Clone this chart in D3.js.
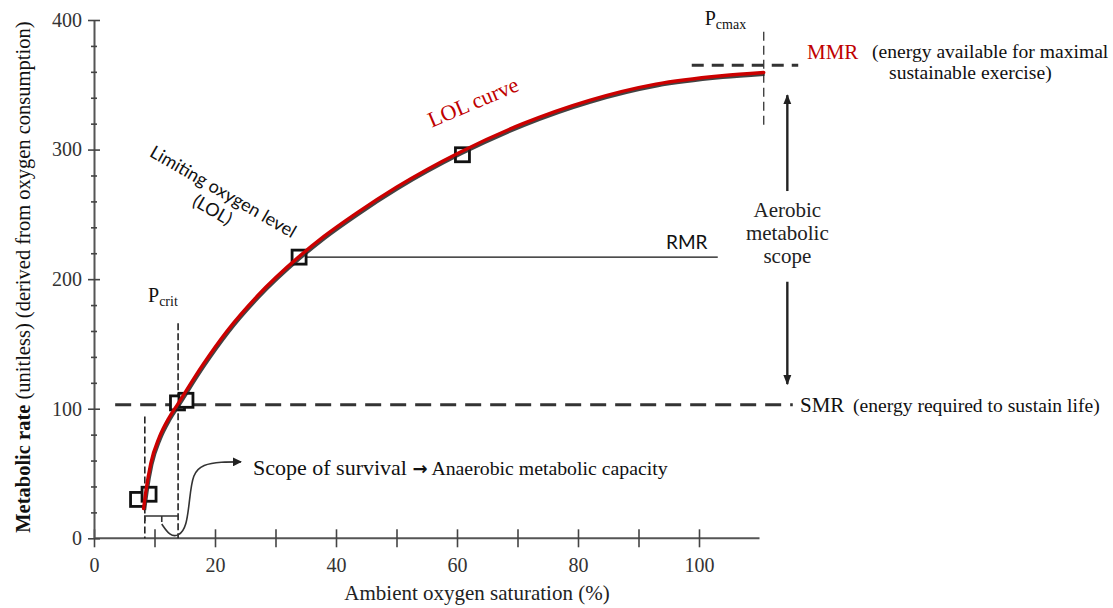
<!DOCTYPE html>
<html>
<head>
<meta charset="utf-8">
<script src="https://cdn.jsdelivr.net/npm/d3@7"></script>
<style>
  html, body { margin: 0; padding: 0; background: #fff; }
  svg { display: block; }
  .serif { font-family: "Liberation Serif", "Times New Roman", serif; }
  .sans { font-family: Lato, "Open Sans", sans-serif; }
</style>
</head>
<body>
<svg id="chart" width="1113" height="608"></svg>
<script>
// LOL curve: ambient O2 saturation (%) vs metabolic rate (unitless)
const curveX = [8.2, 8.6, 9.4, 10.8, 12.4, 13.9, 18.0, 22.0, 27.0, 33.8, 38.0, 43.4, 50.0, 60.5, 70.9, 81.9, 92.9, 103.8, 110.7];
const curveY = [23, 37, 58, 78, 93, 104, 134, 160, 187, 217, 233, 251, 271, 298, 320, 338, 350.5, 357, 359.5];

// measured points (open squares)
const pointX = [7.2, 9.1, 13.8, 15.2, 33.9, 60.9];
const pointY = [30, 34, 104.5, 106.5, 217, 296];

// reference levels
const levelNames = ["SMR", "RMR", "MMR"];
const levelValues = [103, 217, 365];
const pcritX = 13.9;
const plowX = 8.4;
const pcmaxX = 110.7;

// axis ticks
const xTickValues = [0, 10, 20, 30, 40, 50, 60, 70, 80, 90, 100];
const xTickLabels = [0, 20, 40, 60, 80, 100];
const yTickValues = [0, 20, 40, 60, 80, 100, 120, 140, 160, 180, 200, 220, 240, 260, 280, 300, 320, 340, 360, 380, 400];
const yTickLabels = [0, 100, 200, 300, 400];

const svg = d3.select("#chart");
const x = d3.scaleLinear().domain([0, 110]).range([94, 759.5]);
const y = d3.scaleLinear().domain([0, 400]).range([538.3, 20]);

// arrowhead markers
const defs = svg.append("defs");
defs.append("marker")
  .attr("id", "arrow").attr("viewBox", "0 0 10 10")
  .attr("refX", 9).attr("refY", 5)
  .attr("markerWidth", 9).attr("markerHeight", 9)
  .attr("markerUnits", "userSpaceOnUse")
  .attr("orient", "auto")
  .append("path").attr("d", "M0,0 L10,5 L0,10 Z").attr("fill", "#222");
defs.append("marker")
  .attr("id", "arrowBig").attr("viewBox", "0 0 10 10")
  .attr("refX", 9).attr("refY", 5)
  .attr("markerWidth", 10).attr("markerHeight", 10)
  .attr("markerUnits", "userSpaceOnUse")
  .attr("orient", "auto")
  .append("path").attr("d", "M0,1 L10,5 L0,9 Z").attr("fill", "#222");

// ---- axes ----
const xAxis = d3.axisBottom(x).tickValues(xTickValues)
  .tickFormat(d => xTickLabels.includes(d) ? d : "").tickSizeOuter(0);
const gx = svg.append("g").attr("transform", `translate(0,${y(0)})`).call(xAxis);
gx.select(".domain").attr("d", `M${x(0)},0H${x(110)}`).attr("stroke", "#555").attr("stroke-width", 2);
gx.selectAll(".tick line").attr("y1", -9).attr("y2", 9).attr("stroke", "#444").attr("stroke-width", 1.6);
gx.selectAll(".tick text").attr("y", 20).attr("class", "serif")
  .attr("font-size", 20).attr("fill", "#333");

const yAxis = d3.axisLeft(y).tickValues(yTickValues)
  .tickFormat(d => yTickLabels.includes(d) ? d : "").tickSizeOuter(0);
const gy = svg.append("g").attr("transform", `translate(${x(0)},0)`).call(yAxis);
gy.select(".domain").attr("stroke", "#555").attr("stroke-width", 2);
gy.selectAll(".tick line")
  .attr("x1", d => yTickLabels.includes(d) ? -6 : -3)
  .attr("x2", d => yTickLabels.includes(d) ? 6 : 3)
  .attr("stroke", "#444").attr("stroke-width", 1.6);
gy.selectAll(".tick text").attr("x", -12).attr("class", "serif")
  .attr("font-size", 20).attr("fill", "#333");
svg.selectAll(".tick text").attr("font-family", null);

// axis titles
const yTitle = svg.append("text").attr("class", "serif")
  .attr("transform", `translate(30,${(y(0) + y(400)) / 2 - 2}) rotate(-90)`)
  .attr("text-anchor", "middle").attr("font-size", 20.5).attr("fill", "#111");
yTitle.append("tspan").attr("font-weight", "bold").text("Metabolic rate");
yTitle.append("tspan").text(" (unitless) (derived from oxygen consumption)");

svg.append("text").attr("class", "serif")
  .attr("x", 477).attr("y", 600).attr("text-anchor", "middle")
  .attr("font-size", 21).attr("fill", "#222")
  .text("Ambient oxygen saturation (%)");

// ---- reference lines ----
// SMR dashed
svg.append("line")
  .attr("x1", x(3.5)).attr("x2", x(115.5))
  .attr("y1", y(levelValues[0])).attr("y2", y(levelValues[0]))
  .attr("stroke", "#333").attr("stroke-width", 3).attr("stroke-dasharray", "16,9");
// MMR dashed
svg.append("line")
  .attr("x1", x(98.8)).attr("x2", x(116.4))
  .attr("y1", y(levelValues[2])).attr("y2", y(levelValues[2]))
  .attr("stroke", "#333").attr("stroke-width", 3).attr("stroke-dasharray", "12,8");
// RMR solid
svg.append("line")
  .attr("x1", x(pointX[4])).attr("x2", x(103.1))
  .attr("y1", y(levelValues[1])).attr("y2", y(levelValues[1]))
  .attr("stroke", "#111").attr("stroke-width", 1.3);
// Pcmax thin dashed vertical
svg.append("line")
  .attr("x1", x(pcmaxX)).attr("x2", x(pcmaxX))
  .attr("y1", y(391)).attr("y2", y(319))
  .attr("stroke", "#333").attr("stroke-width", 1.3).attr("stroke-dasharray", "9,5");
// Pcrit and lower vertical dashed lines
svg.append("line")
  .attr("x1", x(pcritX)).attr("x2", x(pcritX))
  .attr("y1", y(166)).attr("y2", y(0))
  .attr("stroke", "#222").attr("stroke-width", 1.6).attr("stroke-dasharray", "7,3");
svg.append("line")
  .attr("x1", x(plowX)).attr("x2", x(plowX))
  .attr("y1", y(94)).attr("y2", y(0))
  .attr("stroke", "#222").attr("stroke-width", 1.6).attr("stroke-dasharray", "7,3");

// bracket between the two vertical lines
const by = y(17.2);
svg.append("path")
  .attr("d", `M${x(plowX)},${by + 5}V${by}H${x(pcritX)}M${x(11.2)},${by}v6`)
  .attr("fill", "none").attr("stroke", "#333").attr("stroke-width", 1.6);

// curved arrow to "Scope of survival"
const arrowPts = [[11.2, 11], [12.5, 2], [14.0, 1.5], [15.3, 9], [15.8, 30], [16.3, 50], [18.0, 57], [21.0, 59], [24.3, 59]];
svg.append("path")
  .attr("d", d3.line().x(d => x(d[0])).y(d => y(d[1])).curve(d3.curveBasis)(arrowPts))
  .attr("fill", "none").attr("stroke", "#333").attr("stroke-width", 1.6)
  .attr("marker-end", "url(#arrow)");

// ---- measured points ----
svg.append("g").selectAll("rect")
  .data(pointX.map((d, i) => [d, pointY[i]]))
  .join("rect")
  .attr("x", d => x(d[0]) - 7).attr("y", d => y(d[1]) - 7)
  .attr("width", 14).attr("height", 14)
  .attr("fill", "#fff").attr("stroke", "#111").attr("stroke-width", 2.8);

// ---- LOL curve (dark shadow + red line) ----
const curveData = curveX.map((d, i) => [d, curveY[i]]);
const lol = d3.line().x(d => x(d[0])).y(d => y(d[1])).curve(d3.curveMonotoneX);
svg.append("path").attr("d", lol(curveData))
  .attr("transform", "translate(0.8,1.6)")
  .attr("fill", "none").attr("stroke", "#222").attr("stroke-width", 3.6).attr("opacity", 0.85);
svg.append("path").attr("d", lol(curveData))
  .attr("fill", "none").attr("stroke", "#cc0000").attr("stroke-width", 3.4)
  .attr("stroke-linecap", "round");

// ---- aerobic scope arrows ----
const ax = x(114.6);
svg.append("line").attr("x1", ax).attr("x2", ax)
  .attr("y1", y(268)).attr("y2", y(342))
  .attr("stroke", "#222").attr("stroke-width", 2.4).attr("marker-end", "url(#arrowBig)");
svg.append("line").attr("x1", ax).attr("x2", ax)
  .attr("y1", y(198)).attr("y2", y(119))
  .attr("stroke", "#222").attr("stroke-width", 2.4).attr("marker-end", "url(#arrowBig)");

// ---- annotations ----
const serif = (sel) => sel.attr("class", "serif");

const scope = svg.append("text").call(serif)
  .attr("x", ax).attr("y", 217).attr("text-anchor", "middle")
  .attr("font-size", 21).attr("fill", "#222");
["Aerobic", "metabolic", "scope"].forEach((t, i) =>
  scope.append("tspan").attr("x", ax).attr("dy", i ? 23 : 0).text(t));

const pcmax = svg.append("text").call(serif)
  .attr("x", x(pcmaxX) - 59).attr("y", 25).attr("font-size", 20).attr("fill", "#111");
pcmax.append("tspan").text("P");
pcmax.append("tspan").attr("font-size", 14).attr("dy", 4).text("cmax");

const pcrit = svg.append("text").call(serif)
  .attr("x", 148).attr("y", 302).attr("font-size", 20).attr("fill", "#111");
pcrit.append("tspan").text("P");
pcrit.append("tspan").attr("font-size", 14).attr("dy", 4).text("crit");

svg.append("text").call(serif)
  .attr("x", 807).attr("y", y(levelValues[2]) - 6.5).attr("font-size", 21)
  .attr("fill", "#c00000").text(levelNames[2]);
svg.append("text").call(serif)
  .attr("x", 872).attr("y", 58).attr("font-size", 19.6).attr("fill", "#111")
  .text("(energy available for maximal");
svg.append("text").call(serif)
  .attr("x", 889).attr("y", 79).attr("font-size", 19.6).attr("fill", "#111")
  .text("sustainable exercise)");

svg.append("text").call(serif)
  .attr("x", 800).attr("y", y(levelValues[0]) + 7).attr("font-size", 21)
  .attr("fill", "#111").text(levelNames[0]);
svg.append("text").call(serif)
  .attr("x", 853).attr("y", y(levelValues[0]) + 7).attr("font-size", 19.6)
  .attr("fill", "#111").text("(energy required to sustain life)");

svg.append("text").attr("class", "sans")
  .attr("x", 666).attr("y", 249).attr("font-size", 19).attr("fill", "#111")
  .text(levelNames[1]);

const sos = svg.append("text").call(serif)
  .attr("x", 253).attr("y", 475).attr("font-size", 22).attr("fill", "#111");
sos.append("tspan").text("Scope of survival ");
sos.append("tspan").attr("font-family", "DejaVu Sans").attr("font-size", 18).attr("font-weight", "bold").text("\u2192");
sos.append("tspan").attr("font-size", 19.8).text(" Anaerobic metabolic capacity");

svg.append("text").call(serif)
  .attr("transform", "translate(476,109) rotate(-23)")
  .attr("text-anchor", "middle").attr("font-size", 22).attr("fill", "#c00000")
  .text("LOL curve");

const lolLabel = svg.append("text").attr("class", "sans")
  .attr("transform", "translate(220,197) rotate(30)")
  .attr("text-anchor", "middle").attr("font-size", 18).attr("fill", "#111");
lolLabel.append("tspan").attr("x", 0).attr("dy", 0).text("Limiting oxygen level");
lolLabel.append("tspan").attr("x", 0).attr("dy", 21).text("(LOL)");
</script>
</body>
</html>
